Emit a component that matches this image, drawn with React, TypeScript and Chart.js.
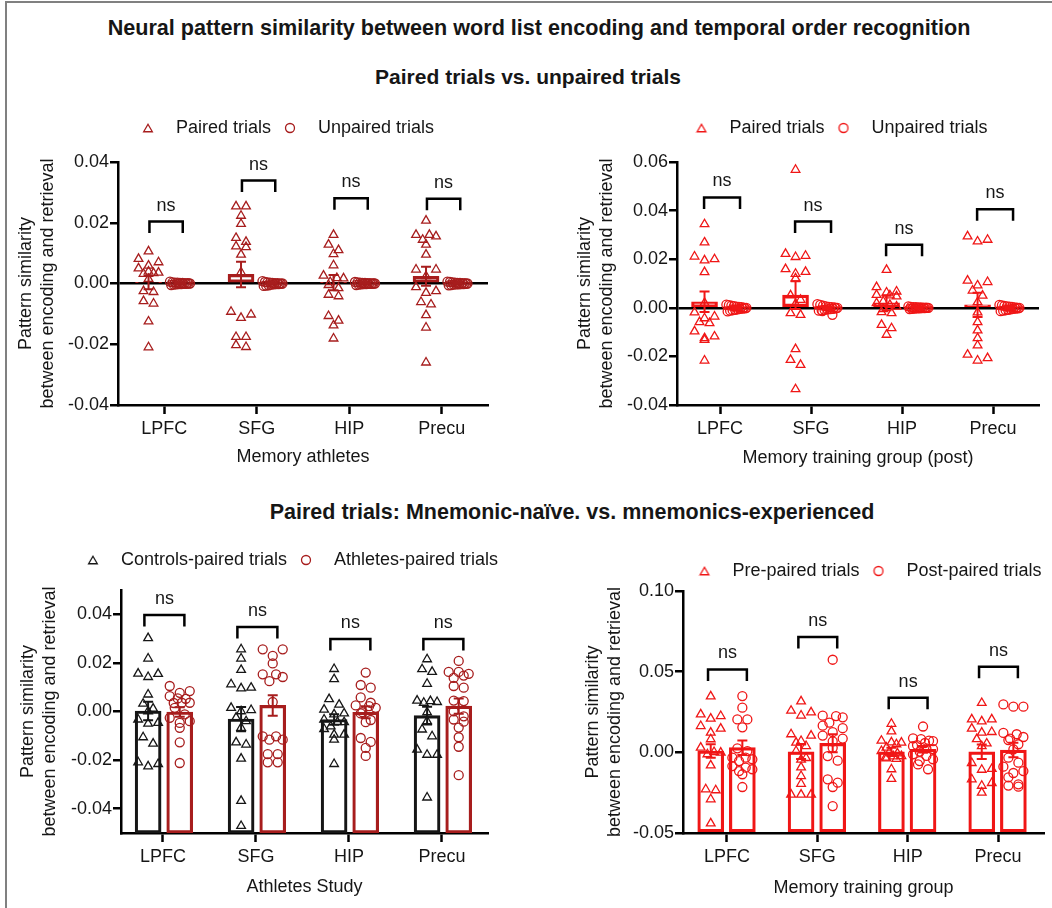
import React, { useEffect, useRef } from "react";
import { Chart, registerables } from "chart.js";

Chart.register(...registerables);

const FONT = "'Liberation Sans', Arial, Helvetica, sans-serif";
const INK = "#161616";
const DARK_RED = "#a71d1d";
const RED = "#f01616";
const BLACK = "#161616";

Chart.defaults.font.family = FONT;
Chart.defaults.font.size = 18;
Chart.defaults.color = INK;

const REGIONS = ["LPFC", "SFG", "HIP", "Precu"];

// ---- y tick values ----
const TICKS_ATH = [-0.04, -0.02, 0, 0.02, 0.04];
const TICKS_TRN = [-0.04, -0.02, 0, 0.02, 0.04, 0.06];
const TICKS_STUDY = [-0.04, -0.02, 0, 0.02, 0.04];
const TICKS_GROUP = [-0.05, 0, 0.05, 0.1];

// ---- Panel 1: Memory athletes, paired vs unpaired ----
const athPairedLPFC = [0.0106, 0.0081, 0.007, 0.0059, 0.005, 0.0039, 0.0036, 0.0034, 0.0032, 0.0015, -0.0025, -0.0028, -0.0058, -0.0066, -0.0125, -0.021];
const athPairedSFG = [0.0254, 0.0254, 0.0223, 0.0196, 0.015, 0.0137, 0.0122, 0.012, 0.0095, 0.0037, -0.0093, -0.0102, -0.0113, -0.0176, -0.0176, -0.0203, -0.0209];
const athPairedHIP = [0.016, 0.0128, 0.011, 0.0097, 0.006, 0.0026, 0.0018, 0.0017, 0.0005, -0.0005, -0.0015, -0.0037, -0.0042, -0.0107, -0.0122, -0.0138, -0.0181];
const athPairedPrecu = [0.0207, 0.016, 0.016, 0.0155, 0.0144, 0.0128, 0.0095, 0.0046, 0.0046, 0.0024, -0.0012, -0.0025, -0.0031, -0.0061, -0.0069, -0.0104, -0.0145, -0.026];
const athUnpairedLPFC = [0.0006, 0.0004, 0.0003, 0.0002, 0.0002, 0.0001, 0.0001, 0, 0, -0.0001, -0.0001, -0.0002, -0.0003, -0.0004, -0.0005, 0.0003, -0.0002];
const athUnpairedSFG = [0.0008, 0.0005, 0.0004, 0.0002, 0.0001, 0, 0, -0.0001, -0.0002, -0.0003, -0.0004, -0.0006, -0.0007, -0.0008, 0.0003, -0.0002, 0.0001];
const athUnpairedHIP = [0.0005, 0.0003, 0.0002, 0.0001, 0.0001, 0, 0, -0.0001, -0.0001, -0.0002, -0.0003, -0.0004, 0.0002, -0.0002, 0.0004, -0.0005, 0];
const athUnpairedPrecu = [0.0006, 0.0004, 0.0003, 0.0002, 0.0001, 0, -0.0001, -0.0002, -0.0003, -0.0004, -0.0005, -0.0006, 0.0002, -0.0002, 0.0005, 0.0001, -0.0003];
const athPairedMean = [0.0003, 0.003, 0.0003, 0.0024];
const athPairedSem = [0.0022, 0.0042, 0.0025, 0.0031];
const athUnpairedMean = [0.0001, 0.0001, 0.0001, 0.0001];
const athUnpairedSem = [0.0002, 0.0002, 0.0002, 0.0002];
const athBrackets = [0.0204, 0.0339, 0.0281, 0.0279];

// ---- Panel 2: Memory training group (post), paired vs unpaired ----
const trnPairedLPFC = [0.0344, 0.0269, 0.0211, 0.02, 0.0195, 0.0147, 0.002, -0.0019, -0.0036, -0.0043, -0.0059, -0.0063, -0.0097, -0.0118, -0.0125, -0.0132, -0.0217];
const trnPairedSFG = [0.0568, 0.0222, 0.0214, 0.0209, 0.0159, 0.0148, 0.014, 0.0121, 0.0051, 0.0033, 0.0016, -0.0022, -0.0029, -0.017, -0.0214, -0.0235, -0.0335];
const trnPairedHIP = [0.0156, 0.0085, 0.0067, 0.0063, 0.0053, 0.0051, 0.0047, 0.0026, 0.0019, 0.0012, 0.0005, -0.0005, -0.0018, -0.0022, -0.007, -0.0084, -0.0111];
const trnPairedPrecu = [0.0294, 0.028, 0.0273, 0.0112, 0.0106, 0.0092, 0.0071, 0.005, 0.0023, -0.0019, -0.0059, -0.0093, -0.0125, -0.0155, -0.0193, -0.0207, -0.0217];
const trnUnpairedLPFC = [0.0013, 0.0011, 0.0009, 0.0007, 0.0005, 0.0003, 0.0001, 0, -0.0002, -0.0004, -0.0006, -0.0008, -0.001, -0.0012, -0.0015, 0.0004, -0.0003];
const trnUnpairedSFG = [0.0015, 0.0012, 0.0009, 0.0006, 0.0004, 0.0002, 0, -0.0002, -0.0004, -0.0006, -0.0008, -0.001, -0.0012, -0.0014, -0.0029, 0.0003, -0.0005];
const trnUnpairedHIP = [0.0006, 0.0004, 0.0003, 0.0002, 0.0001, 0, 0, -0.0001, -0.0002, -0.0003, -0.0004, -0.0005, 0.0002, -0.0002, 0.0001, -0.0001, 0.0003];
const trnUnpairedPrecu = [0.0012, 0.001, 0.0008, 0.0006, 0.0004, 0.0002, 0, -0.0002, -0.0004, -0.0006, -0.0008, -0.001, -0.0012, -0.0014, 0.0005, -0.0003, 0.0001];
const trnPairedMean = [0.0025, 0.0052, 0.002, 0.0012];
const trnPairedSem = [0.0042, 0.0057, 0.003, 0.005];
const trnUnpairedMean = [0.0002, 0.0001, 0.0001, 0.0002];
const trnUnpairedSem = [0.0003, 0.0003, 0.0002, 0.0003];
const trnBrackets = [0.0454, 0.0355, 0.0259, 0.0406];

// ---- Panel 3: Athletes study, controls vs athletes ----
const ctrlLPFC = [0.0302, 0.0218, 0.0156, 0.0155, 0.0142, 0.007, 0.0032, 0.0012, 0.0001, -0.0033, -0.0047, -0.005, -0.0106, -0.0132, -0.0209, -0.0216, -0.0226];
const ctrlSFG = [0.0256, 0.0218, 0.0171, 0.0112, 0.0098, 0.0095, 0.0015, 0.0006, 0.0001, -0.0025, -0.004, -0.0067, -0.0127, -0.0136, -0.0194, -0.0368, -0.0471];
const ctrlHIP = [0.0175, 0.0133, 0.0051, 0.0028, 0.0008, -0.0008, -0.0012, -0.0033, -0.0044, -0.0044, -0.0061, -0.0072, -0.0095, -0.0095, -0.0116, -0.0216];
const ctrlPrecu = [0.0215, 0.0174, 0.0163, 0.0114, 0.0045, 0.0043, 0.0039, 0.0036, -0.0003, -0.004, -0.0074, -0.0102, -0.0157, -0.0178, -0.0178, -0.0354];
const athLPFC = [0.0105, 0.0084, 0.0077, 0.0063, 0.0054, 0.0052, 0.0036, 0.0036, 0.0035, 0.0015, -0.0012, -0.0026, -0.004, -0.0047, -0.0067, -0.0127, -0.0212];
const athSFG = [0.0256, 0.0256, 0.0229, 0.0198, 0.0153, 0.0153, 0.0142, 0.0125, 0.0039, -0.0102, -0.0102, -0.0116, -0.0116, -0.0175, -0.0175, -0.0209, -0.0209];
const athHIP = [0.016, 0.0109, 0.0098, 0.0058, 0.0036, 0.0025, 0.0022, 0.0015, -0.0003, -0.0008, -0.0035, -0.0044, -0.0109, -0.0125, -0.015, -0.0183];
const athPrecu = [0.0208, 0.0163, 0.0163, 0.0155, 0.0148, 0.0138, 0.0105, 0.0098, 0.0045, 0.0043, 0.0001, -0.002, -0.0033, -0.0042, -0.0066, -0.0106, -0.0145, -0.0262];
const ctrlMean = [0.0002, -0.0031, -0.0033, -0.0017];
const ctrlSem = [0.0038, 0.005, 0.0022, 0.0037];
const athMean = [-0.0002, 0.0025, -0.0003, 0.0022];
const athSem = [0.002, 0.0042, 0.0025, 0.0031];
const studyBrackets = [0.0397, 0.0348, 0.0298, 0.0298];

// ---- Panel 4: Memory training group, pre vs post ----
const preLPFC = [0.0347, 0.0235, 0.0225, 0.0209, 0.0163, 0.0147, 0.0122, 0.0081, 0.0029, 0.0002, -0.0002, -0.0012, -0.0081, -0.0229, -0.0235, -0.0291, -0.044];
const preSFG = [0.0316, 0.0258, 0.0248, 0.0228, 0.0112, 0.0104, 0.007, 0.006, 0.0039, 0.0008, -0.0035, -0.0045, -0.0093, -0.0147, -0.0195, -0.0262, -0.0262, -0.0262];
const preHIP = [0.0177, 0.013, 0.0072, 0.0062, 0.006, 0.005, 0.0029, 0.0008, 0.0002, -0.0006, -0.0023, -0.0025, -0.0033, -0.0038, -0.004, -0.0105, -0.0165];
const prePrecu = [0.0306, 0.0204, 0.0204, 0.0192, 0.0147, 0.0126, 0.0122, 0.0082, 0.0055, 0.0038, -0.0066, -0.0103, -0.0108, -0.0167, -0.019, -0.0207, -0.025];
const postLPFC = [0.0349, 0.0277, 0.0204, 0.0204, 0.0155, 0.0025, 0.0008, -0.0033, -0.0033, -0.0043, -0.0054, -0.0085, -0.0095, -0.0105, -0.0116, -0.0136, -0.0215];
const postSFG = [0.0574, 0.0227, 0.0225, 0.0217, 0.0184, 0.0165, 0.015, 0.0125, 0.0104, 0.0085, 0.0068, 0.0028, -0.0023, -0.0052, -0.0167, -0.0188, -0.0215, -0.0333];
const postHIP = [0.016, 0.0087, 0.0082, 0.0072, 0.007, 0.0058, 0.0045, 0.0038, 0.0025, 0.002, 0.0005, -0.0012, -0.0022, -0.0043, -0.0054, -0.0075, -0.0105];
const postPrecu = [0.0297, 0.0283, 0.0283, 0.012, 0.0112, 0.0095, 0.0085, 0.0076, 0.005, 0.0019, -0.0033, -0.0064, -0.0089, -0.0116, -0.0128, -0.0155, -0.0198, -0.0206, -0.0213];
const preMean = [0.0008, 0.0003, 0.0003, 0.0003];
const preSem = [0.0042, 0.0045, 0.0025, 0.0045];
const postMean = [0.0029, 0.0056, 0.0019, 0.0014];
const postSem = [0.0045, 0.0056, 0.002, 0.0045];
const groupBrackets = [0.0514, 0.0715, 0.0339, 0.0531];

// ---------------- layout / drawing helpers ----------------
const LINE_H = 21.6; // 1.2 * 18px
const ROW_H = 7;
const STEP = 10;
const MAX_SPREAD = 20;

type Group = {
  label: string; color: string; style: "triangle" | "circle";
  values: number[][]; means: number[]; sems: number[]; offset: number;
};
type Spec = {
  area: { l: number; r: number; t: number; b: number };
  xRange: [number, number];
  yRange: [number, number];
  yTicks: number[];
  legendCx: number; legendTextY: number;
  yTitleX: number; xTitleY: number; xTitle: string;
  zeroLine: boolean; barBase?: number;
  a: Group; b: Group;
  bracketX: [number, number]; brackets: number[];
};

function layoutOf(s: Spec) {
  const Lb = s.yTitleX - LINE_H / 2;
  const Rb = 2 * s.legendCx - Lb;
  const left = Math.floor(Lb);
  const right = Math.ceil(Rb);
  const legendTop = s.legendTextY - 29;
  const top = Math.floor(legendTop - 4);
  const axisBottom = s.xTitleY + LINE_H / 2;
  const bottom = Math.ceil(axisBottom + 2);
  return {
    left, top, width: right - left, height: bottom - top,
    pad: { left: Lb - left, right: right - Rb, top: legendTop - top, bottom: bottom - axisBottom },
    yAxisW: s.area.l - Lb,
    rightW: Rb - s.area.r,
    legendH: s.area.t - legendTop,
    xAxisH: axisBottom - s.area.b,
  };
}

function markerCanvas(style: string, color: string) {
  const c = document.createElement("canvas");
  c.width = 32; c.height = 16;
  const g = c.getContext("2d") as CanvasRenderingContext2D;
  g.strokeStyle = color; g.lineWidth = 1.3;
  const cx = 6, cy = 8;
  g.beginPath();
  if (style === "circle") {
    g.arc(cx, cy, 4.5, 0, Math.PI * 2);
  } else {
    const r = 5;
    for (let k = 0; k < 3; k++) {
      const a = (k * 2 * Math.PI) / 3;
      const px = cx + Math.sin(a) * r;
      const py = cy - Math.cos(a) * r + r * 0.25;
      if (k === 0) g.moveTo(px, py); else g.lineTo(px, py);
    }
    g.closePath();
  }
  g.stroke();
  return c;
}

// horizontal spreading of points that sit at about the same height (beeswarm-like)
const swarmPlugin = {
  id: "swarm",
  afterDatasetsUpdate(chart: any) {
    for (let di = 0; di < 2; di++) {
      const meta = chart.getDatasetMeta(di);
      const data = chart.data.datasets[di].data as any[];
      const groups = new Map<string, number[]>();
      data.forEach((p, j) => {
        const k = String(p.x);
        if (!groups.has(k)) groups.set(k, []);
        (groups.get(k) as number[]).push(j);
      });
      groups.forEach((idxs) => {
        const pts = idxs.map((j) => meta.data[j]).sort((a: any, b: any) => a.y - b.y);
        const rows: any[][] = [];
        let row: any[] = [];
        pts.forEach((el: any) => {
          if (row.length && el.y - row[0].y >= ROW_H) { rows.push(row); row = []; }
          row.push(el);
        });
        if (row.length) rows.push(row);
        rows.forEach((r) => {
          const n = r.length;
          const step = n > 1 ? Math.min(STEP, MAX_SPREAD / (n - 1)) : 0;
          // zig-zag order (top, bottom, 2nd top, 2nd bottom, ...) so dense rows read as a band
          const order: any[] = [];
          let lo = 0, hi = n - 1;
          while (lo <= hi) {
            order.push(r[lo++]);
            if (lo <= hi) order.push(r[hi--]);
          }
          order.forEach((el: any, k: number) => { el.x += (k - (n - 1) / 2) * step; });
        });
      });
    }
  },
};

function overlayPlugin(s: Spec) {
  return {
    id: "overlay",
    afterDatasetsDraw(chart: any) {
      const ctx = chart.ctx as CanvasRenderingContext2D;
      const xs = chart.scales.x, ys = chart.scales.y;
      ctx.save();
      REGIONS.forEach((_, i) => {
        [s.a, s.b].forEach((gr) => {
          const px = xs.getPixelForValue(i + gr.offset);
          const hi = ys.getPixelForValue(gr.means[i] + gr.sems[i]);
          const lo = ys.getPixelForValue(gr.means[i] - gr.sems[i]);
          ctx.strokeStyle = gr.color; ctx.lineWidth = 2; ctx.lineCap = "butt";
          ctx.beginPath();
          ctx.moveTo(px, hi); ctx.lineTo(px, lo);
          ctx.moveTo(px - 5, hi); ctx.lineTo(px + 5, hi);
          ctx.moveTo(px - 5, lo); ctx.lineTo(px + 5, lo);
          ctx.stroke();
        });
        const x1 = xs.getPixelForValue(i + s.bracketX[0]);
        const x2 = xs.getPixelForValue(i + s.bracketX[1]);
        const yb = ys.getPixelForValue(s.brackets[i]);
        ctx.strokeStyle = "#000"; ctx.lineWidth = 2.5; ctx.lineJoin = "miter";
        ctx.beginPath();
        ctx.moveTo(x1, yb + 11.5); ctx.lineTo(x1, yb); ctx.lineTo(x2, yb); ctx.lineTo(x2, yb + 11.5);
        ctx.stroke();
        ctx.fillStyle = INK; ctx.font = `18px ${FONT}`;
        ctx.textAlign = "center"; ctx.textBaseline = "alphabetic";
        ctx.fillText("ns", (x1 + x2) / 2, yb - 11);
      });
      ctx.restore();
    },
  };
}

function legendHeightPlugin(h: number) {
  return {
    id: "legendHeight",
    beforeLayout(chart: any) {
      const lg = chart.legend;
      if (lg && !lg.__patched) {
        const orig = lg.fit;
        lg.fit = function (this: any) { orig.call(this); this.height = h; };
        lg.__patched = true;
      }
    },
  };
}

function scatterSet(gr: Group) {
  const data: { x: number; y: number }[] = [];
  gr.values.forEach((vals, i) => vals.forEach((v) => data.push({ x: i + gr.offset, y: v })));
  const r = gr.style === "triangle" ? 5 : 4.5;
  return {
    type: "scatter", label: gr.label, data, xAxisID: "x", yAxisID: "y",
    pointStyle: gr.style, pointRadius: r, pointHoverRadius: r,
    pointBorderColor: gr.color, pointBackgroundColor: "rgba(0,0,0,0)", pointBorderWidth: 1.3,
    borderColor: gr.color, backgroundColor: "rgba(0,0,0,0)", showLine: false,
  };
}

function barSet(gr: Group, s: Spec) {
  const ds: any = {
    type: "bar", label: gr.label + " mean", xAxisID: "x", yAxisID: "y",
    data: gr.means.map((m, i) => ({ x: i + gr.offset, y: m })),
    borderColor: gr.color, backgroundColor: "rgba(0,0,0,0)", borderWidth: 2.5,
    borderSkipped: false, grouped: false, categoryPercentage: 1, barPercentage: 1, maxBarThickness: 26,
  };
  if (s.barBase !== undefined) ds.base = s.barBase;
  return ds;
}

function Panel({ spec }: { spec: Spec }) {
  const ref = useRef<HTMLCanvasElement>(null);
  const L = layoutOf(spec);
  useEffect(() => {
    const canvas = ref.current as HTMLCanvasElement;
    const markers = [markerCanvas(spec.a.style, spec.a.color), markerCanvas(spec.b.style, spec.b.color)];
    const chart = new Chart(canvas, {
      type: "scatter",
      data: { datasets: [scatterSet(spec.a), scatterSet(spec.b), barSet(spec.a, spec), barSet(spec.b, spec)] as any },
      plugins: [swarmPlugin, overlayPlugin(spec), legendHeightPlugin(L.legendH)],
      options: {
        responsive: false,
        animation: false,
        events: [],
        layout: { padding: L.pad },
        plugins: {
          tooltip: { enabled: false },
          title: { display: false },
          legend: {
            display: true, position: "top", align: "center", fullSize: true,
            labels: {
              usePointStyle: true, pointStyleWidth: 18, boxHeight: 18, padding: 20,
              font: { size: 18, family: FONT }, color: INK,
              generateLabels: (c: any) =>
                (Chart.defaults.plugins.legend.labels.generateLabels as any)(c).map((l: any) => ({
                  ...l, pointStyle: markers[l.datasetIndex] || l.pointStyle,
                })),
              filter: (item: any) => item.datasetIndex < 2,
            },
          },
        },
        scales: {
          x: {
            type: "linear", axis: "x", position: "bottom",
            min: spec.xRange[0], max: spec.xRange[1], offset: false,
            afterBuildTicks: (sc: any) => { sc.ticks = REGIONS.map((_, i) => ({ value: i })); },
            afterFit: (sc: any) => { sc.height = L.xAxisH; },
            ticks: {
              callback: (v: any) => REGIONS[Math.round(Number(v))],
              padding: 4, maxRotation: 0, minRotation: 0, autoSkip: false,
              font: { size: 18, family: FONT }, color: INK,
            },
            grid: {
              drawOnChartArea: false, drawTicks: true, tickLength: 9,
              tickColor: "#000", tickWidth: 2.5, color: "rgba(0,0,0,0)", offset: false,
            },
            border: { display: true, color: "#000", width: 2.5 },
            title: { display: true, text: spec.xTitle, font: { size: 18, family: FONT }, color: INK, padding: { top: 0, bottom: 0 } },
          },
          y: {
            type: "linear", axis: "y", position: "left",
            min: spec.yRange[0], max: spec.yRange[1],
            afterBuildTicks: (sc: any) => { sc.ticks = spec.yTicks.map((v) => ({ value: v })); },
            afterFit: (sc: any) => { sc.width = L.yAxisW; },
            ticks: {
              callback: (v: any) => Number(v).toFixed(2),
              padding: 1, font: { size: 18, family: FONT }, color: INK,
            },
            grid: {
              drawOnChartArea: spec.zeroLine,
              color: (c: any) => (spec.zeroLine && c.tick && Math.abs(c.tick.value) < 1e-9 ? "#000" : "rgba(0,0,0,0)"),
              lineWidth: 2.5, drawTicks: true, tickLength: 8, tickColor: "#000", tickWidth: 2.5,
            },
            border: { display: true, color: "#000", width: 2.5 },
            title: {
              display: true, text: ["Pattern similarity", "between encoding and retrieval"],
              font: { size: 18, family: FONT }, color: INK, padding: { top: 0, bottom: 0 },
            },
          },
          yR: {
            type: "linear", axis: "y", position: "right", display: true,
            afterFit: (sc: any) => { sc.width = L.rightW; },
            ticks: { display: false },
            grid: { display: false, drawTicks: false },
            border: { display: false },
          },
        },
      } as any,
    });
    return () => chart.destroy();
  }, []);
  return (
    <canvas
      ref={ref}
      width={L.width}
      height={L.height}
      style={{ position: "absolute", left: L.left, top: L.top, width: L.width, height: L.height }}
    />
  );
}

// ---------------- panel specs ----------------
const specAthletes: Spec = {
  area: { l: 118, r: 488, t: 162, b: 405 },
  xRange: [-0.5, 3.5], yRange: [-0.04, 0.04], yTicks: TICKS_ATH,
  legendCx: 291.5, legendTextY: 128, yTitleX: 26, xTitleY: 457, xTitle: "Memory athletes",
  zeroLine: true,
  a: { label: "Paired trials", color: DARK_RED, style: "triangle", values: [athPairedLPFC, athPairedSFG, athPairedHIP, athPairedPrecu], means: athPairedMean, sems: athPairedSem, offset: -0.17 },
  b: { label: "Unpaired trials", color: DARK_RED, style: "circle", values: [athUnpairedLPFC, athUnpairedSFG, athUnpairedHIP, athUnpairedPrecu], means: athUnpairedMean, sems: athUnpairedSem, offset: 0.17 },
  bracketX: [-0.16, 0.2], brackets: athBrackets,
};

const specTraining: Spec = {
  area: { l: 677, r: 1039, t: 162, b: 405 },
  xRange: [-0.4725, 3.505], yRange: [-0.04, 0.06], yTicks: TICKS_TRN,
  legendCx: 845, legendTextY: 128, yTitleX: 585, xTitleY: 458, xTitle: "Memory training group (post)",
  zeroLine: true,
  a: { label: "Paired trials", color: RED, style: "triangle", values: [trnPairedLPFC, trnPairedSFG, trnPairedHIP, trnPairedPrecu], means: trnPairedMean, sems: trnPairedSem, offset: -0.17 },
  b: { label: "Unpaired trials", color: RED, style: "circle", values: [trnUnpairedLPFC, trnUnpairedSFG, trnUnpairedHIP, trnUnpairedPrecu], means: trnUnpairedMean, sems: trnUnpairedSem, offset: 0.18 },
  bracketX: [-0.175, 0.22], brackets: trnBrackets,
};

const specStudy: Spec = {
  area: { l: 121, r: 488, t: 590, b: 833 },
  xRange: [-0.4516, 3.495], yRange: [-0.05, 0.05], yTicks: TICKS_STUDY,
  legendCx: 296, legendTextY: 560, yTitleX: 28, xTitleY: 887, xTitle: "Athletes Study",
  zeroLine: false, barBase: -0.05,
  a: { label: "Controls-paired trials", color: BLACK, style: "triangle", values: [ctrlLPFC, ctrlSFG, ctrlHIP, ctrlPrecu], means: ctrlMean, sems: ctrlSem, offset: -0.16 },
  b: { label: "Athletes-paired trials", color: DARK_RED, style: "circle", values: [athLPFC, athSFG, athHIP, athPrecu], means: athMean, sems: athSem, offset: 0.18 },
  bracketX: [-0.2, 0.23], brackets: studyBrackets,
};

const specGroup: Spec = {
  area: { l: 683, r: 1044, t: 591, b: 833 },
  xRange: [-0.487, 3.509], yRange: [-0.05, 0.1], yTicks: TICKS_GROUP,
  legendCx: 873.5, legendTextY: 571, yTitleX: 593, xTitleY: 888, xTitle: "Memory training group",
  zeroLine: false, barBase: -0.05,
  a: { label: "Pre-paired trials", color: RED, style: "triangle", values: [preLPFC, preSFG, preHIP, prePrecu], means: preMean, sems: preSem, offset: -0.18 },
  b: { label: "Post-paired trials", color: RED, style: "circle", values: [postLPFC, postSFG, postHIP, postPrecu], means: postMean, sems: postSem, offset: 0.17 },
  bracketX: [-0.21, 0.22], brackets: groupBrackets,
};

function heading(cx: number, cy: number, size: number): React.CSSProperties {
  return {
    position: "absolute", left: cx, top: cy - 15, height: 30, lineHeight: "30px",
    transform: "translateX(-50%)", whiteSpace: "nowrap", fontWeight: "bold",
    fontSize: size, fontFamily: FONT, color: INK,
  };
}

export default function App() {
  return (
    <div style={{ position: "absolute", left: 0, top: 0, width: 1052, height: 908, overflow: "hidden", background: "#fff" }}>
      <div style={{ position: "absolute", left: 5, top: 1, width: 1100, height: 1000, borderLeft: "2px solid #808080", borderTop: "2px solid #808080" }} />
      <div style={heading(539, 28, 21.6)}>Neural pattern similarity between word list encoding and temporal order recognition</div>
      <div style={heading(528, 77, 21)}>Paired trials vs. unpaired trials</div>
      <div style={heading(572, 512, 21.5)}>Paired trials: Mnemonic-naïve. vs. mnemonics-experienced</div>
      <Panel spec={specAthletes} />
      <Panel spec={specTraining} />
      <Panel spec={specStudy} />
      <Panel spec={specGroup} />
    </div>
  );
}
